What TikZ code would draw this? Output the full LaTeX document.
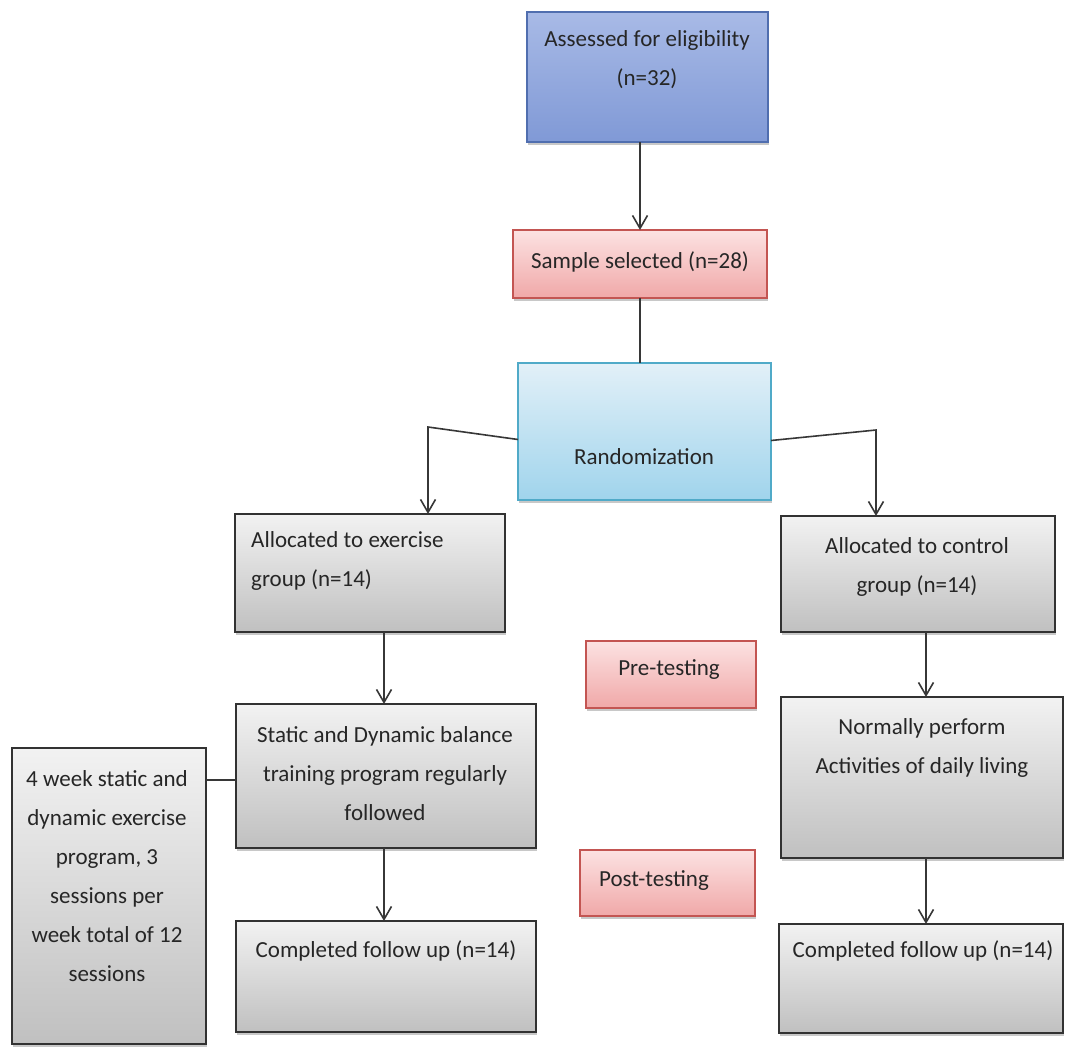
\documentclass[tikz,border=0pt]{standalone}
\usepackage{fontspec}
\setmainfont{Carlito}
\usetikzlibrary{arrows.meta,calc,shadows}
\definecolor{txt}{RGB}{38,38,38}
\definecolor{lin}{RGB}{55,55,55}
\definecolor{bluetop}{RGB}{168,186,230}
\definecolor{bluebot}{RGB}{128,153,214}
\definecolor{blueline}{RGB}{80,110,175}
\definecolor{pinktop}{RGB}{252,226,226}
\definecolor{pinkbot}{RGB}{240,168,168}
\definecolor{pinkline}{RGB}{195,85,82}
\definecolor{cyantop}{RGB}{226,240,248}
\definecolor{cyanbot}{RGB}{160,212,236}
\definecolor{cyanline}{RGB}{80,170,200}
\definecolor{graytop}{RGB}{242,242,242}
\definecolor{graybot}{RGB}{192,192,192}
\definecolor{grayline}{RGB}{50,50,50}
\tikzset{
  boxbase/.style={rectangle, inner sep=0pt, outer sep=0pt, anchor=north west,
    drop shadow={shadow xshift=1.2pt, shadow yshift=-2.5pt, opacity=.30, fill=black!70}},
  bluebox/.style={boxbase, draw=blueline, line width=1.6pt, top color=bluetop, bottom color=bluebot},
  pinkbox/.style={boxbase, draw=pinkline, line width=1.6pt, top color=pinktop, bottom color=pinkbot},
  cyanbox/.style={boxbase, draw=cyanline, line width=1.6pt, top color=cyantop, bottom color=cyanbot},
  graybox/.style={boxbase, draw=grayline, line width=2.2pt, top color=graytop, bottom color=graybot},
  lbl/.style={text=txt, font=\fontsize{23}{39}\selectfont, inner sep=0pt, align=center},
  conn/.style={draw=lin, line width=1.6pt},
  arr/.style={conn, -{Straight Barb[length=13pt, width=15pt, line width=1.6pt]}}
}
\begin{document}
\begin{tikzpicture}[x=1pt, y=-1pt]
\useasboundingbox (0,0) rectangle (1066,1047);
\fill[white] (0,0) rectangle (1066,1047);

% boxes
\node[bluebox, minimum width=241pt, minimum height=130pt] (assess) at (527,12) {};
\node[pinkbox, minimum width=254pt, minimum height=68pt] (sample) at (513,230) {};
\node[cyanbox, minimum width=253pt, minimum height=137pt] (random) at (518,363) {};
\node[graybox, minimum width=270pt, minimum height=118pt] (allocEx) at (235,514) {};
\node[graybox, minimum width=274pt, minimum height=116pt] (allocCtl) at (781,516) {};
\node[pinkbox, minimum width=170pt, minimum height=67pt] (pre) at (586,641) {};
\node[graybox, minimum width=300pt, minimum height=144pt] (static) at (236,704) {};
\node[graybox, minimum width=282pt, minimum height=161pt] (normal) at (781,697) {};
\node[graybox, minimum width=194pt, minimum height=296pt] (fourwk) at (12,748) {};
\node[pinkbox, minimum width=175pt, minimum height=66pt] (post) at (580,850) {};
\node[graybox, minimum width=300pt, minimum height=111pt] (compL) at (236,921) {};
\node[graybox, minimum width=284pt, minimum height=109pt] (compR) at (779,924) {};

% texts
\node[lbl] (tassess) at (647,60) {Assessed for eligibility\\(n=32)};
\node[lbl] (tsample) at (640,262) {Sample selected (n=28)};
\node[lbl] (trandom) at (644,457) {Randomization};
\node[lbl, align=left, anchor=west] (tallocEx) at (251,561) {Allocated to exercise\\group (n=14)};
\node[lbl] (tallocCtl) at (917,567) {Allocated to control\\group (n=14)};
\node[lbl] (tpre) at (669,670) {Pre-testing};
\node[lbl] (tstatic) at (385,774) {Static and Dynamic balance\\training program regularly\\followed};
\node[lbl] (tnormal) at (922,748) {Normally perform\\Activities of daily living};
\node[lbl] (tfourwk) at (107,876) {4 week static and\\dynamic exercise\\program, 3\\sessions per\\week total of 12\\sessions};
\node[lbl] (tpost) at (654,881) {Post-testing};
\node[lbl] (tcompL) at (386,951) {Completed follow up (n=14)};
\node[lbl] (tcompR) at (923,951) {Completed follow up (n=14)};

% helper coordinates
\coordinate (cl) at (428,427);
\coordinate (cr) at (876,430);
\coordinate (xL) at (384,0);
\coordinate (xR) at (926,0);
\coordinate (yC) at (0,780);

% connectors
\draw[arr] (sample.north |- assess.south) -- (sample.north);
\draw[conn] (sample.south) -- (sample.south |- random.north);
\draw[arr] ($(random.west)+(0,8)$) -- (cl) -- (cl |- allocEx.north);
\draw[arr] ($(random.east)+(0,9)$) -- (cr) -- (cr |- allocCtl.north);
\draw[arr] (allocEx.south -| xL) -- (static.north -| xL);
\draw[arr] (static.south -| xL) -- (compL.north -| xL);
\draw[arr] (allocCtl.south -| xR) -- (normal.north -| xR);
\draw[arr] (normal.south -| xR) -- (compR.north -| xR);
\draw[conn] (fourwk.east |- yC) -- (static.west |- yC);
\end{tikzpicture}
\end{document}
